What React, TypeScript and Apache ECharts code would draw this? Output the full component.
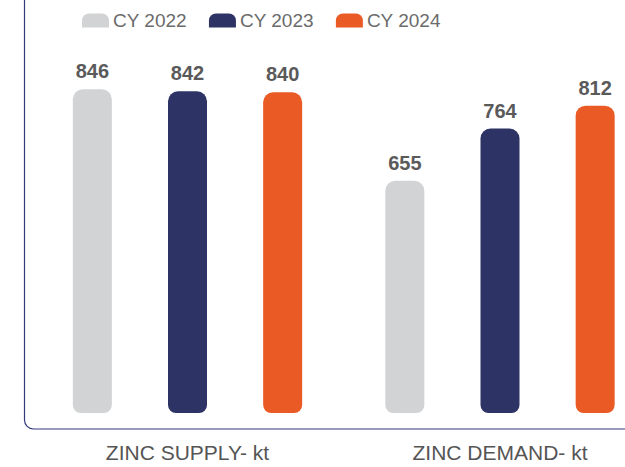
import React, { useEffect, useRef } from "react";
import * as echarts from "echarts";

const categories = ["ZINC SUPPLY- kt", "ZINC DEMAND- kt"];
const seriesNames = ["CY 2022", "CY 2023", "CY 2024"];
const cy2022 = [846, 655];
const cy2023 = [842, 764];
const cy2024 = [840, 812];
const colors = ["#d1d3d4", "#2d3364", "#ea5a25"];

export default function App() {
  const ref = useRef<HTMLDivElement>(null);
  useEffect(() => {
    if (!ref.current) return;
    const chart = echarts.init(ref.current, undefined, { renderer: "svg" });
    const data = [cy2022, cy2023, cy2024];
    const legendIcon =
      "path://M0,14 V7 A7,7 0 0 1 7,0 H20 A7,7 0 0 1 27,7 V14 Z";
    chart.setOption({
      animation: false,
      color: colors,
      legend: {
        top: 11,
        left: 82,
        padding: 0,
        itemWidth: 27,
        itemHeight: 14,
        itemGap: 22,
        icon: legendIcon,
        textStyle: {
          fontSize: 19,
          color: "#6b6b6b",
          fontFamily: "Liberation Sans, Arial, sans-serif",
          padding: [0, 0, 0, -1],
        },
        data: seriesNames,
      },
      grid: {
        left: 31.25,
        right: -31.25,
        top: 30,
        bottom: 54,
        containLabel: false,
        outerBoundsMode: "none",
      },
      xAxis: {
        type: "category",
        data: categories,
        axisLine: { show: false },
        axisTick: { show: false },
        axisLabel: {
          margin: 29,
          fontSize: 21,
          color: "#555555",
          fontFamily: "Liberation Sans, Arial, sans-serif",
        },
      },
      yAxis: {
        type: "value",
        min: 170,
        max: 970,
        show: false,
        splitLine: { show: false },
      },
      graphic: [
        {
          type: "rect",
          shape: { x: 24.5, y: -30, width: 700, height: 459, r: 9 },
          style: { fill: "none", stroke: "#33397a", lineWidth: 1.2 },
          silent: true,
        },
      ],
      series: seriesNames.map((name, i) => ({
        name,
        type: "bar",
        data: data[i],
        barWidth: 39,
        barGap: "144%",
        itemStyle: { color: colors[i], borderRadius: [10, 10, 8, 8] },
        label: {
          show: true,
          position: "top",
          distance: 8,
          fontSize: 20,
          fontWeight: "bold",
          color: "#5a5a5a",
          fontFamily: "Liberation Sans, Arial, sans-serif",
        },
      })),
    });
    return () => chart.dispose();
  }, []);
  return <div ref={ref} style={{ width: 625, height: 467, position: "absolute", left: 0, top: 0 }} />;
}
